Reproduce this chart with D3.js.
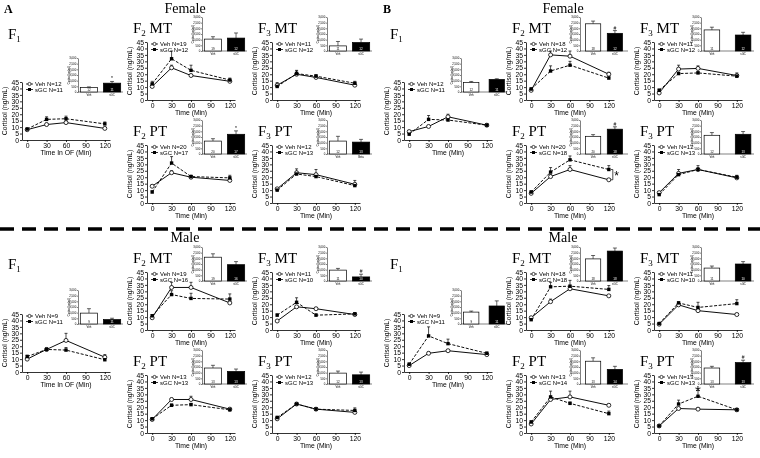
<!DOCTYPE html>
<html><head><meta charset="utf-8">
<script src="https://cdn.jsdelivr.net/npm/d3@7"></script>
<style>body{margin:0;background:#fff}svg{display:block;filter:grayscale(100%)}</style>
</head><body>
<svg id="chart" width="760" height="458"></svg>
<script>
// ---------------- DATA ----------------
const times = [0, 30, 60, 120];
const xTicks = [0, 30, 60, 90, 120];
const yTicks = [0, 5, 10, 15, 20, 25, 30, 35, 40, 45];
const insetTicks = [0, 500, 1000, 1500, 2000, 2500, 3000];
// panel order: A-Female F1,F2MT,F3MT,F2PT,F3PT ; B-Female ... ; A-Male ... ; B-Male ...
const titleSub = ["1","2","3","2","3","1","2","3","2","3","1","2","3","2","3","1","2","3","2","3"];
const titleSuffix = [""," MT"," MT"," PT"," PT",""," MT"," MT"," PT"," PT",""," MT"," MT"," PT"," PT",""," MT"," MT"," PT"," PT"];
const xLabels = ["Time In OF (Min)","Time (Min)","Time (Min)","Time (Min)","Time (Min)",
  "Time (Min)","Time (Min)","Time (Min)","Time (Min)","Time (Min)",
  "Time In OF (Min)","Time (Min)","Time (Min)","Time (Min)","Time (Min)",
  "Time (Min)","Time (Min)","Time (Min)","Time (Min)","Time (Min)"];
const vehN = [12,19,11,20,12, 12,18,11,20,12, 9,19,11,13,12, 9,18,11,13,13];
const sgcN = [11,12,12,17,13, 11,12,12,18,13, 11,16,10,13,13, 11,18,10,14,13];
const vehMean = [
  [8,12,13.5,9],[10.5,25,19,14.5],[11.5,20,17.5,11.5],[13,23.5,20,17.5],[11,23.5,22,14.5],
  [6.5,10.5,18,11.5],[7.5,35,34,20],[5.5,24,24.5,19],[7.5,20.5,26,18],[8,23,26,19.5],
  [10,17.5,24.5,11.5],[9.5,33,33,21],[7,18,16.5,12],[10.5,26,26,18.5],[11,22.5,18.5,16],
  [5,14.5,16.5,13.5],[9.5,22,32,26.5],[4.5,19.5,15,12],[7,26,28,21.5],[5.5,19,18.5,18]];
const vehErr = [
  [0.5,1,1,0.8],[2,2,1,1],[2,3,2,2],[1,1.5,1,1],[1,3,4,3],
  [1,0.8,2,0.8],[1,3,4,1.5],[1,3,2,2],[1,1.5,3,1],[1,3,3,2],
  [1,1,5.5,2],[1,4,4,1],[0.5,1,1,1],[1,1,2.5,1],[1,1,1,1],
  [0.8,1,1,0.8],[1,2,1.5,1],[0.5,1,1,1],[1,1.5,4.5,1],[0.5,1,1,1]];
const sgcMean = [
  [8.5,16,16.5,12.5],[12.5,32,23,15.5],[10.5,20.5,18.5,13],[8.5,31,20.5,19.5],[10,22.5,20.5,13.5],
  [4.5,16,15.5,11.5],[8.5,22.5,27,17],[7.5,20.5,21,18.5],[8.5,24,33.5,26],[6.5,22,26,20],
  [12,17.5,17,9.5],[11,27.5,24.5,24],[11.5,21.5,11.5,12.5],[11,21.5,22,18],[12,22.5,18.5,17.5],
  [6,28,22,14.5],[8,33.5,34,31.5],[5,21,17.5,20.5],[8.5,28,23,15],[5.5,22.5,28.5,18]];
const sgcErr = [
  [0.5,2,2,1.5],[2,6,4,1.5],[1,2,1,1.5],[1,5,1,2],[1,2,1,1],
  [0.8,3,1,0.8],[1,4,3,1],[1,1,1,1],[1,3.5,3,3],[1,1,1,1],
  [1,1,2,1],[1,3,4,4],[1,3.5,1,1],[1,1,1,1],[1,1,1,2],
  [1,7,3.5,1],[1,3.5,4.5,3],[0.5,1,4,3],[1,4.5,1,2],[0.5,3,4.5,1]];
const aucVeh    = [390,1050,450,1140,1140, 840,2400,1860,1560,1650, 960,2100,960,1410,960, 1050,1950,1140,2010,1410];
const aucVehErr = [60,210,390,210,420, 90,240,240,150,240, 390,300,150,240,180, 90,300,180,300,150];
const aucSgc    = [780,1140,750,1740,1050, 1110,1560,1410,2190,1740, 390,1440,360,1110,810, 1590,2640,1500,1290,1890];
const aucSgcErr = [150,450,300,300,240, 60,240,240,210,240, 120,270,240,210,240, 450,270,210,270,210];
const aucMark   = ["*","","","*","", "","#","","#","", "","","#","","", "","","","","#"];
const barLabels = [["Veh","sGC"],["Veh","sGC"],["Veh","sGC"],["Veh","sGC"],["Veh","Beta"],
  ["Veh","sGC"],["Veh","sGC"],["Veh","sGC"],["Veh","sGC"],["Veh","sGC"],
  ["Veh","sGC"],["Veh","sGC"],["Veh","sGC"],["Veh","sGC"],["Veh","sGC"],
  ["Veh","sGC"],["Veh","sGC"],["Veh","sGC"],["Veh","sGC"],["Veh","sGC"]];
const sexLabels = ["Female","Female","Male","Male"];
const groupLetters = ["A","B"];

// ---------------- LAYOUT ----------------
const W = 760, H = 458;
const svg = d3.select("#chart");
svg.append("rect").attr("width",W).attr("height",H).attr("fill","#fff");
const sans = "'Liberation Sans', Arial, sans-serif";
const serif = "'Liberation Serif', 'Times New Roman', serif";
const quadX = [0, 1, 0, 1];          // A or B
const quadDy = [0, 0, 230, 230];
const colAx = [[22,147,272,147,272],[404,526,654,526,654]];
const rowTop = [82,42,42,145,145];
const chartW = 88, chartH = 58;
const insetCfg = { // per group, per column (F1,F2,F3)
  0: [{dx:56,w:45,pi:0.25,po:0.1},{dx:55,w:45,pi:0.25,po:0.1},{dx:55,w:45,pi:0.25,po:0.1}],
  1: [{dx:57,w:46,pi:0.4,po:0.1},{dx:54,w:48,pi:0.3,po:0.25},{dx:47,w:53,pi:0.5,po:0.1}]
};
const colOf = [0,1,2,1,2];

function drawPanel(i){
  const q = Math.floor(i/5), k = i%5, grp = quadX[q];
  const ax = colAx[grp][k], top = rowTop[k] + quadDy[q] + (q>=2 && k===0 ? 2 : 0);
  const g = svg.append("g");
  const x = d3.scaleLinear().domain([-8,128]).range([ax, ax+chartW]);
  const y = d3.scaleLinear().domain([0,45]).range([top+chartH, top]);

  // title
  const t = g.append("text").attr("x", ax-14).attr("y", top - (k===0?(q>=2?45:43):9))
    .attr("font-family", serif).attr("font-size", 15).attr("fill","#000");
  t.append("tspan").text("F");
  t.append("tspan").text(titleSub[i]).attr("font-size", 9).attr("dy", 3);
  t.append("tspan").text(titleSuffix[i]).attr("dy", -3);

  // axes
  const xa = g.append("g").attr("transform",`translate(0,${top+chartH})`)
    .call(d3.axisBottom(x).tickValues(xTicks).tickSize(2).tickSizeOuter(0).tickPadding(1.5));
  const ya = g.append("g").attr("transform",`translate(${ax},0)`)
    .call(d3.axisLeft(y).tickValues(yTicks).tickSize(2).tickSizeOuter(0).tickPadding(1));
  [xa,ya].forEach(a=>{
    a.selectAll("text").attr("font-family",sans).attr("font-size",6.8).attr("fill","#000");
    a.selectAll("line,path").attr("stroke","#000").attr("stroke-width",0.8);
  });
  g.append("text").attr("x", x(60)).attr("y", top+chartH+15).attr("text-anchor","middle")
    .attr("font-family",sans).attr("font-size",6.8).text(xLabels[i]);
  g.append("text").attr("transform",`translate(${ax-15},${top+chartH/2}) rotate(-90)`)
    .attr("text-anchor","middle").attr("font-family",sans).attr("font-size",6.8).text("Cortisol (ng/mL)");

  // series
  const series = [
    {m: vehMean[i], e: vehErr[i], dash: null, veh:true},
    {m: sgcMean[i], e: sgcErr[i], dash: "3,1.6", veh:false}
  ];
  const line = d3.line().x((d,j)=>x(times[j])).y(d=>y(d));
  series.forEach(s=>{
    g.append("path").attr("d", line(s.m)).attr("fill","none").attr("stroke","#000")
      .attr("stroke-width",0.95).attr("stroke-dasharray", s.dash);
    s.m.forEach((v,j)=>{
      const cx = x(times[j]);
      g.append("line").attr("x1",cx).attr("x2",cx).attr("y1",y(v)).attr("y2",y(v+s.e[j]))
        .attr("stroke","#000").attr("stroke-width",0.7);
      g.append("line").attr("x1",cx-1.5).attr("x2",cx+1.5).attr("y1",y(v+s.e[j])).attr("y2",y(v+s.e[j]))
        .attr("stroke","#000").attr("stroke-width",0.7);
    });
  });
  series.forEach(s=>{
    s.m.forEach((v,j)=>{
      const cx = x(times[j]);
      if (s.veh) g.append("circle").attr("cx",cx).attr("cy",y(v)).attr("r",2)
        .attr("fill","#fff").attr("stroke","#000").attr("stroke-width",0.8);
      else g.append("rect").attr("x",cx-1.7).attr("y",y(v)-1.7).attr("width",3.4).attr("height",3.4).attr("fill","#000");
    });
  });

  // legend
  const lg = g.append("g").attr("transform",`translate(${ax+4},${top+2})`);
  [["Veh N="+vehN[i], true],["sGC N="+sgcN[i], false]].forEach((d,j)=>{
    const ly = j*5.5;
    lg.append("line").attr("x1",0).attr("x2",7).attr("y1",ly).attr("y2",ly).attr("stroke","#000").attr("stroke-width",0.8);
    if (d[1]) lg.append("circle").attr("cx",3.5).attr("cy",ly).attr("r",1.6).attr("fill","#fff").attr("stroke","#000").attr("stroke-width",0.7);
    else lg.append("rect").attr("x",2).attr("y",ly-1.5).attr("width",3).attr("height",3).attr("fill","#000");
    lg.append("text").attr("x",9).attr("y",ly+2).attr("font-family",sans).attr("font-size",6).text(d[0]);
  });

  // inset bar chart
  const cfg = insetCfg[grp][colOf[k]];
  const ix = ax + cfg.dx, itop = top - (k===0?24:25), ih = 34, iw = cfg.w;
  const iy = d3.scaleLinear().domain([0,3000]).range([itop+ih, itop]);
  const ib = d3.scaleBand().domain([0,1]).range([ix, ix+iw]).paddingInner(cfg.pi).paddingOuter(cfg.po);
  const ig = g.append("g");
  const iya = ig.append("g").attr("transform",`translate(${ix},0)`)
    .call(d3.axisLeft(iy).tickValues(insetTicks).tickSize(1.2).tickSizeOuter(0).tickPadding(0.6));
  iya.selectAll("text").attr("font-family",sans).attr("font-size",2.8);
  iya.selectAll("line,path").attr("stroke","#000").attr("stroke-width",0.5);
  ig.append("line").attr("x1",ix).attr("x2",ix+iw).attr("y1",itop+ih).attr("y2",itop+ih).attr("stroke","#000").attr("stroke-width",0.5);
  ig.append("text").attr("transform",`translate(${ix-8},${itop+ih/2}) rotate(-90)`)
    .attr("text-anchor","middle").attr("font-family",sans).attr("font-size",2.6).text("Cortisol (ng/mL)");
  const bars = [[aucVeh[i],aucVehErr[i],"#fff",vehN[i]],[aucSgc[i],aucSgcErr[i],"#000",sgcN[i]]];
  bars.forEach((b,j)=>{
    const bx = ib(j), bw = ib.bandwidth(), cx = bx+bw/2;
    ig.append("line").attr("x1",cx).attr("x2",cx).attr("y1",iy(b[0])).attr("y2",iy(b[0]+b[1])).attr("stroke","#000").attr("stroke-width",0.6);
    ig.append("line").attr("x1",cx-2).attr("x2",cx+2).attr("y1",iy(b[0]+b[1])).attr("y2",iy(b[0]+b[1])).attr("stroke","#000").attr("stroke-width",0.6);
    ig.append("rect").attr("x",bx).attr("y",iy(b[0])).attr("width",bw).attr("height",iy(0)-iy(b[0]))
      .attr("fill",b[2]).attr("stroke","#000").attr("stroke-width",0.7);
    ig.append("text").attr("x",cx).attr("y",itop+ih-1.5).attr("text-anchor","middle").attr("font-family",sans)
      .attr("font-size",3).attr("fill", j===0?"#000":"#fff").text(b[3]);
    ig.append("text").attr("x",cx).attr("y",itop+ih+3.5).attr("text-anchor","middle").attr("font-family",sans)
      .attr("font-size",2.8).text(barLabels[i][j]);
    if (j===1 && aucMark[i]) ig.append("text").attr("x",cx).attr("y",iy(b[0]+b[1])-1).attr("text-anchor","middle")
      .attr("font-family",sans).attr("font-size",5).text(aucMark[i]);
  });

  // special annotations
  if (i===8){
    const bx = x(120)+4;
    g.append("path").attr("d",`M${bx-2},${y(18)}H${bx}V${y(26)}H${bx-2}`).attr("fill","none").attr("stroke","#000").attr("stroke-width",0.7);
    g.append("text").attr("x",bx+1.5).attr("y",y(22)+5).attr("font-family",sans).attr("font-size",12).text("*");
  }
  if (i===19){
    g.append("text").attr("x",x(60)).attr("y",y(33)+6).attr("text-anchor","middle").attr("font-family",sans)
      .attr("font-size",15).text("*");
  }
}
for (let i=0;i<20;i++) drawPanel(i);

// group letters & sex headings
[0,1,2,3].forEach(q=>{
  const grp = quadX[q], dy = quadDy[q];
  if (q<2) svg.append("text").attr("x", grp?383:4).attr("y", 13).attr("font-family",serif)
    .attr("font-weight","bold").attr("font-size",12).text(groupLetters[grp]);
  svg.append("text").attr("x", grp?563:185).attr("y", 13+dy - (q>=2?1:0)).attr("text-anchor","middle")
    .attr("font-family",serif).attr("font-size",14).text(sexLabels[q]);
});
// dashed separator
svg.append("line").attr("x1",0).attr("x2",W).attr("y1",229).attr("y2",229)
  .attr("stroke","#000").attr("stroke-width",3.5).attr("stroke-dasharray","14,8");
</script>
</body></html>
